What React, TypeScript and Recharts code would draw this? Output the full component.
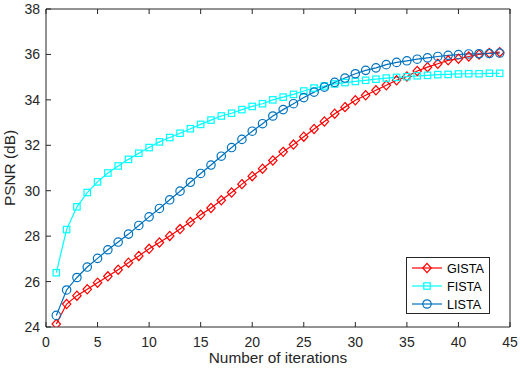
import React from 'react';
import { LineChart, Line, XAxis, YAxis, Legend } from 'recharts';

// Iteration index on the x axis
const iterations = [
  1, 2, 3, 4, 5, 6, 7, 8, 9, 10, 11, 12, 13, 14, 15, 16, 17, 18, 19, 20, 21, 22,
  23, 24, 25, 26, 27, 28, 29, 30, 31, 32, 33, 34, 35, 36, 37, 38, 39, 40, 41, 42, 43, 44,
];

// PSNR (dB) per iteration for each solver
const gista = [
  24.13, 25.01, 25.38, 25.66, 25.95, 26.23, 26.52, 26.83, 27.13, 27.44,
  27.72, 28.01, 28.31, 28.62, 28.94, 29.24, 29.58, 29.92, 30.29, 30.64,
  30.97, 31.33, 31.71, 32.03, 32.38, 32.72, 33.05, 33.39, 33.68, 33.98,
  34.2, 34.42, 34.64, 34.86, 35.03, 35.27, 35.44, 35.59, 35.74, 35.81,
  35.91, 36.0, 36.06, 36.1,
];
const fista = [
  26.39, 28.29, 29.29, 29.92, 30.39, 30.78, 31.09, 31.38, 31.65, 31.9,
  32.15, 32.34, 32.53, 32.73, 32.92, 33.11, 33.29, 33.41, 33.57, 33.71,
  33.83, 34.0, 34.12, 34.24, 34.39, 34.52, 34.61, 34.7, 34.76, 34.81,
  34.86, 34.91, 34.96, 34.99, 35.02, 35.06, 35.08, 35.11, 35.12, 35.14,
  35.15, 35.15, 35.17, 35.17,
];
const lista = [
  24.51, 25.63, 26.18, 26.64, 27.02, 27.4, 27.74, 28.09, 28.47, 28.85,
  29.22, 29.6, 29.98, 30.37, 30.76, 31.13, 31.52, 31.9, 32.26, 32.62,
  32.95, 33.29, 33.57, 33.83, 34.1, 34.34, 34.56, 34.77, 34.96, 35.15,
  35.3, 35.41, 35.55, 35.65, 35.72, 35.79, 35.85, 35.91, 35.96, 35.99,
  36.02, 36.03, 36.04, 36.06,
];

const xTicks = [0, 5, 10, 15, 20, 25, 30, 35, 40, 45];
const yTicks = [24, 26, 28, 30, 32, 34, 36, 38];

const seriesNames = ['GISTA', 'FISTA', 'LISTA'];
const seriesColors = ['#FF0000', '#00FFFF', '#0072BD'];

const xLabel = 'Number of iterations';
const yLabel = 'PSNR (dB)';

const data = iterations.map((it, i) => ({
  it,
  GISTA: gista[i],
  FISTA: fista[i],
  LISTA: lista[i],
}));

const AXIS = '#262626';
const FONT = '"Liberation Sans", Arial, Helvetica, sans-serif';

type Shape = 'diamond' | 'square' | 'circle';
const shapes: Shape[] = ['diamond', 'square', 'circle'];

function marker(shape: Shape, cx: number, cy: number, color: string, key?: string | number) {
  if (shape === 'diamond') {
    const h = 4.6;
    const w = 4.2;
    return (
      <path
        key={key}
        d={`M${cx},${cy - h}L${cx + w},${cy}L${cx},${cy + h}L${cx - w},${cy}Z`}
        fill="none"
        stroke={color}
        strokeWidth={1.2}
      />
    );
  }
  if (shape === 'square') {
    const s = 3.2;
    return (
      <rect
        key={key}
        x={cx - s}
        y={cy - s}
        width={2 * s}
        height={2 * s}
        fill="none"
        stroke={color}
        strokeWidth={1.2}
      />
    );
  }
  return <circle key={key} cx={cx} cy={cy} r={4.2} fill="none" stroke={color} strokeWidth={1.2} />;
}

const makeDot = (shape: Shape, color: string) => (props: any) => {
  const { cx, cy, index } = props;
  if (cx == null || cy == null) return <g key={index} />;
  return marker(shape, cx, cy, color, index);
};

const LegendBox = () => (
  <svg width={84} height={57} style={{ display: 'block' }}>
    <rect x={0.5} y={0.5} width={83} height={56} fill="#fff" stroke={AXIS} strokeWidth={1} />
    {seriesNames.map((name, i) => {
      const y = 11 + i * 18;
      return (
        <g key={name}>
          <line x1={6} x2={36} y1={y} y2={y} stroke={seriesColors[i]} strokeWidth={1.2} />
          {marker(shapes[i], 21, y, seriesColors[i])}
          <text x={41} y={y + 4.5} fontSize={12.6} fill="#000" fontFamily={FONT}>
            {name}
          </text>
        </g>
      );
    })}
  </svg>
);

// Axis titles placed relative to the axis viewBox
const XTitle = (props: any) => {
  const vb = props.viewBox || {};
  const cx = vb.x + vb.width / 2;
  return (
    <text x={cx} y={363} textAnchor="middle" fontSize={15.4} fill={AXIS} fontFamily={FONT}>
      {xLabel}
    </text>
  );
};

const YTitle = (props: any) => {
  const vb = props.viewBox || {};
  const cy = vb.y + vb.height / 2;
  const x = 15;
  return (
    <text
      x={x}
      y={cy}
      transform={`rotate(-90, ${x}, ${cy})`}
      textAnchor="middle"
      fontSize={15.4}
      fill={AXIS}
      fontFamily={FONT}
    >
      {yLabel}
    </text>
  );
};

export default function App() {
  return (
    <div style={{ position: 'absolute', left: 0, top: 0, width: 520, height: 370, background: '#fff' }}>
      <LineChart
        width={520}
        height={370}
        data={data}
        margin={{ top: 0, right: 0, bottom: 0, left: 0 }}
        style={{ fontFamily: FONT }}
      >
        <XAxis
          dataKey="it"
          type="number"
          domain={[0, 45]}
          ticks={xTicks}
          allowDataOverflow
          height={43}
          stroke={AXIS}
          tickSize={-5}
          tickMargin={15}
          tick={{ fill: AXIS, fontSize: 14, fontFamily: FONT }}
          label={<XTitle />}
        />
        <XAxis
          xAxisId="top"
          dataKey="it"
          type="number"
          orientation="top"
          domain={[0, 45]}
          ticks={xTicks}
          height={9}
          stroke={AXIS}
          tickSize={-5}
          tickFormatter={() => ''}
        />
        <YAxis
          type="number"
          domain={[24, 38]}
          ticks={yTicks}
          allowDataOverflow
          width={46}
          stroke={AXIS}
          tickSize={-5}
          tickMargin={11}
          tick={{ fill: AXIS, fontSize: 14, fontFamily: FONT }}
          label={<YTitle />}
        />
        <YAxis
          yAxisId="right"
          type="number"
          orientation="right"
          domain={[24, 38]}
          ticks={yTicks}
          width={10}
          stroke={AXIS}
          tickSize={-5}
          tickFormatter={() => ''}
        />
        <Legend
          layout="vertical"
          align="center"
          verticalAlign="middle"
          wrapperStyle={{ position: 'absolute', left: 406, top: 257, width: 84, height: 57 }}
          content={() => <LegendBox />}
        />
        {seriesNames.map((name, i) => (
          <Line
            key={name}
            type="linear"
            dataKey={name}
            stroke={seriesColors[i]}
            strokeWidth={1.2}
            dot={makeDot(shapes[i], seriesColors[i])}
            activeDot={false}
            isAnimationActive={false}
          />
        ))}
      </LineChart>
    </div>
  );
}
